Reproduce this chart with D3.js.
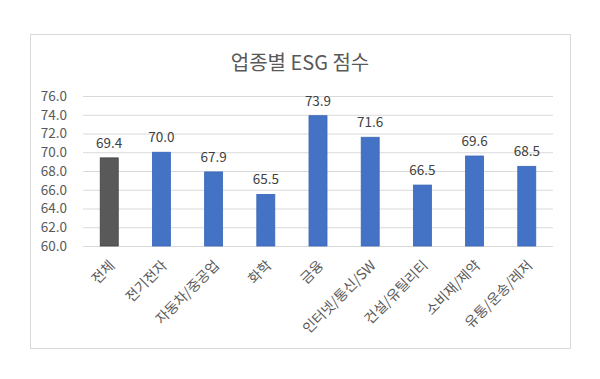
<!DOCTYPE html>
<html>
<head>
<meta charset="utf-8">
<script src="https://cdn.jsdelivr.net/npm/d3@7"></script>
<style>
    body { margin: 0; background: #fff; }
    svg text { font-family: "Noto Sans CJK KR", "Noto Sans", sans-serif; }
</style>
</head>
<body>
<div class="content"></div>
<script>
(function (window) {
    'use strict';
    var categories = ["전체", "전기전자", "자동차/중공업", "화학", "금융", "인터넷/통신/SW", "건설/유틸리티", "소비재/제약", "유통/운송/레저"],
        scores = [69.4, 70.0, 67.9, 65.5, 73.9, 71.6, 66.5, 69.6, 68.5],
        yTicks = [60, 62, 64, 66, 68, 70, 72, 74, 76],
        title = "업종별 ESG 점수",
        width = 600, height = 379,
        plot = {left: 83, right: 553, top: 96, bottom: 246},
        svg, x, y;

    svg = d3.select(".content").append("svg")
        .attr("width", width)
        .attr("height", height);

    // chart frame
    svg.append("rect")
        .attr("x", 30.5).attr("y", 34.5)
        .attr("width", 540).attr("height", 314)
        .attr("fill", "#fff")
        .attr("stroke", "#d9d9d9");

    svg.append("text")
        .text(title)
        .attr("x", 300).attr("y", 70)
        .attr("text-anchor", "middle")
        .attr("font-size", "20px")
        .attr("fill", "#595959");

    x = d3.scaleBand().domain(categories)
        .range([plot.left, plot.right])
        .paddingInner(0.655).paddingOuter(0.33);
    y = d3.scaleLinear().domain([60, 76]).range([plot.bottom, plot.top]);

    svg.append("g")
        .attr("transform", "translate(" + plot.left + ",0)")
        .call(d3.axisLeft(y).tickValues(yTicks).tickSize(plot.left - plot.right).tickFormat(d3.format(".1f")))
        .call(function (g) {
            g.select(".domain").remove();
            g.selectAll(".tick line").attr("stroke", "#d9d9d9").attr("stroke-width", 1);
            g.selectAll(".tick text")
                .attr("x", -16)
                .attr("fill", "#595959")
                .attr("font-size", "13.5px");
        });

    svg.selectAll("rect.bar").data(scores).enter().append("rect")
        .attr("class", "bar")
        .attr("x", function (d, i) { return x(categories[i]); })
        .attr("y", function (d) { return y(d); })
        .attr("width", x.bandwidth())
        .attr("height", function (d) { return y(60) - y(d); })
        .attr("fill", function (d, i) { return i === 0 ? "#595959" : "#4472c4"; })
        .attr("stroke", function (d, i) { return i === 0 ? "#404040" : "#3a67b8"; })
        .attr("stroke-width", 0.8);

    svg.selectAll("text.value").data(scores).enter().append("text")
        .attr("class", "value")
        .attr("x", function (d, i) { return x(categories[i]) + x.bandwidth() / 2; })
        .attr("y", function (d) { return y(d) - 10; })
        .attr("text-anchor", "middle")
        .attr("font-size", "13.5px")
        .attr("fill", "#404040")
        .text(function (d) { return d.toFixed(1); });

    svg.selectAll("text.cat").data(categories).enter().append("text")
        .attr("class", "cat")
        .attr("transform", function (d) {
            return "translate(" + (x(d) + x.bandwidth() / 2 + 3) + "," + (plot.bottom + 17) + ") rotate(-45)";
        })
        .attr("text-anchor", "end")
        .attr("dy", "0.35em")
        .attr("font-size", "14px")
        .attr("fill", "#595959")
        .text(function (d) { return d; });
}(window));
</script>
</body>
</html>
